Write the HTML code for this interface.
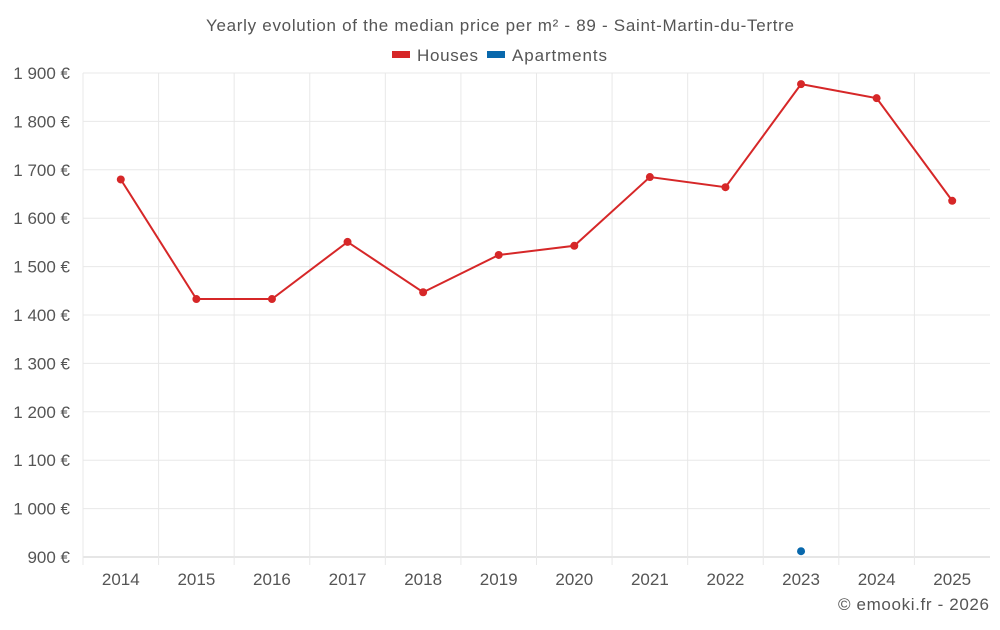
<!DOCTYPE html>
<html><head><meta charset="utf-8"><style>
body{margin:0;background:#fff;font-family:"Liberation Sans",sans-serif;}
svg text{font-family:"Liberation Sans",sans-serif;}
</style></head><body>
<svg id="chart" width="1000" height="625" xmlns="http://www.w3.org/2000/svg">
<text x="206" y="31" font-size="17" fill="#555" textLength="588" lengthAdjust="spacing">Yearly evolution of the median price per m² - 89 - Saint-Martin-du-Tertre</text>
<g>
<g><rect x="392" y="51" width="18" height="7" fill="#d62728"/><text x="417" y="61" font-size="17" fill="#555" textLength="61" lengthAdjust="spacing">Houses</text></g>
<g><rect x="487" y="51" width="18" height="7" fill="#0868ac"/><text x="512" y="61" font-size="17" fill="#555" textLength="95" lengthAdjust="spacing">Apartments</text></g>
</g>
<g id="grid"></g><g id="axes"></g><g id="series"></g>
<text x="838" y="610" font-size="17" fill="#555" textLength="151" lengthAdjust="spacing">© emooki.fr - 2026</text>
</svg>
<script>
const years=["2014","2015","2016","2017","2018","2019","2020","2021","2022","2023","2024","2025"];
const houses=[1680,1433,1433,1551,1447,1524,1543,1685,1664,1877,1848,1636];
const apartments=[null,null,null,null,null,null,null,null,null,912,null,null];
const yTicks=[900,1000,1100,1200,1300,1400,1500,1600,1700,1800,1900];
const NS="http://www.w3.org/2000/svg";
const x0=83,x1=990,yTop=73,yBot=557,ymin=900,ymax=1900;
const bw=(x1-x0)/years.length;
const X=i=>x0+bw*(i+0.5);
const Y=v=>yBot-(v-ymin)/(ymax-ymin)*(yBot-yTop);
function mk(t,a,p){const e=document.createElementNS(NS,t);for(const k in a)e.setAttribute(k,a[k]);p.appendChild(e);return e;}
const g=document.getElementById('grid'),ax=document.getElementById('axes'),s=document.getElementById('series');
yTicks.forEach(v=>{
 const l=mk('line',{x1:x0,x2:x1,y1:Y(v),y2:Y(v),stroke:v===ymin?'#ccc':'#e8e8e8'},g);
 
 
 const t=mk('text',{x:70,y:Y(v)+6,'text-anchor':'end','font-size':17,fill:'#555'},ax);
 t.textContent=v.toLocaleString('fr-FR').replace(/\s|\u202f/g,' ')+' €';
 
 
});
years.forEach((y,i)=>{
 const l=mk('line',{x1:x0+bw*i,x2:x0+bw*i,y1:yTop,y2:yBot+8,stroke:'#e8e8e8'},g);
 
 
 const t=mk('text',{x:X(i),y:585,'text-anchor':'middle','font-size':17,fill:'#555'},ax);
 t.textContent=y;
 
 
});
const pl=mk('polyline',{points:houses.map((v,i)=>X(i)+','+Y(v)).join(' '),fill:'none',stroke:'#d62728','stroke-width':2},s);


houses.forEach((v,i)=>{
 const c=mk('circle',{cx:X(i),cy:Y(v),r:4,fill:'#d62728'},s);
 
 
});
apartments.forEach((v,i)=>{if(v==null)return;
 const c=mk('circle',{cx:X(i),cy:Y(v),r:4,fill:'#0868ac'},s);
 
 
});
</script>
</body></html>
